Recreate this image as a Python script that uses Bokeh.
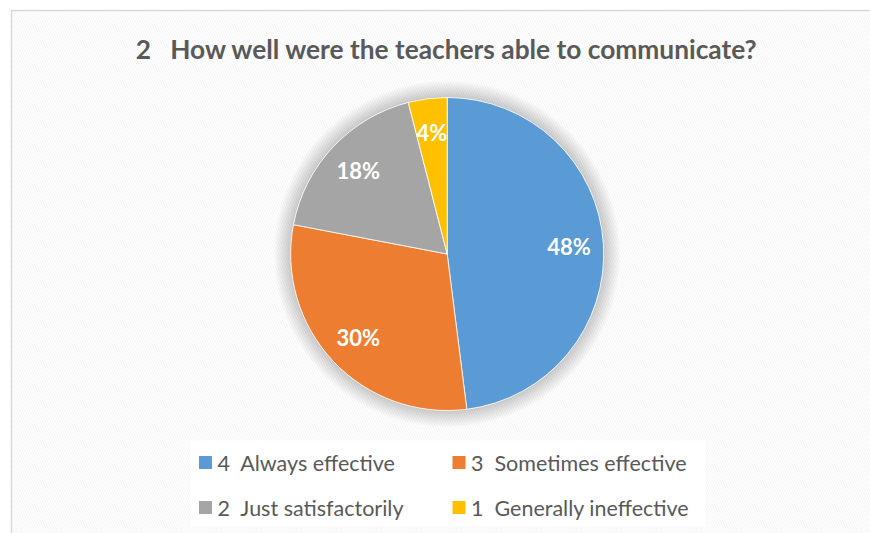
import numpy as np
from bokeh.plotting import figure
from bokeh.models import Range1d, ColumnDataSource
from bokeh.core.properties import value
from bokeh.embed import file_html
from bokeh.resources import INLINE

NB = "\u00a0"
title = "2" + NB * 3 + "How well were the teachers able to communicate?"
categories = ["4" + NB * 2 + "Always effective", "3" + NB * 2 + "Sometimes effective",
              "2" + NB * 2 + "Just satisfactorily", "1" + NB * 2 + "Generally ineffective"]
shares = [48, 30, 18, 4]
labels = ["48%", "30%", "18%", "4%"]
colors = ["#5B9BD5", "#ED7D31", "#A5A5A5", "#FFC000"]

W, H = 870, 533
p = figure(width=W, height=H, output_backend="svg", toolbar_location=None,
           x_range=Range1d(0, W), y_range=Range1d(0, H), min_border=0)
p.axis.visible = False
p.grid.visible = False
p.outline_line_color = None
p.background_fill_color = "white"
p.border_fill_color = "white"

FONT = value("Lato")

def Y(sy):
    return H - sy

# chart area with faint stripes and border
p.quad(left=11, right=W + 20, bottom=-20, top=Y(10), fill_color="white",
       hatch_pattern="left_diagonal_line", hatch_color="#f4f4f4",
       hatch_scale=5, hatch_weight=1, line_color="#d9d9d9", line_width=1.5)

# title
p.text(x=[446.5], y=[Y(48)], text=[title], text_font=FONT, text_font_style="bold",
       text_font_size="26.3px", text_color="#595959", text_align="center",
       text_baseline="middle")

# pie
cx, cy, r = 446.7, Y(253.5), 156.5
# soft shadow
for k in range(1, 18):
    p.circle(x=[cx], y=[cy], radius=r + k, fill_color="#000000",
             fill_alpha=0.011, line_color=None)
p.circle(x=[cx], y=[cy], radius=r, fill_color="white", line_color=None)

frac = np.array(shares, dtype=float) / sum(shares)
cum = np.concatenate([[0], np.cumsum(frac)])
start = np.pi / 2 - 2 * np.pi * cum[1:]
end = np.pi / 2 - 2 * np.pi * cum[:-1]
mid = (start + end) / 2
src = ColumnDataSource(dict(start=start, end=end, color=colors,
                            lx=cx + 0.78 * r * np.cos(mid),
                            ly=cy + 0.78 * r * np.sin(mid), label=labels))
p.wedge(x=cx, y=cy, radius=r, start_angle="start", end_angle="end",
        fill_color="color", line_color="white", line_width=0.8, source=src)
p.text(x="lx", y="ly", text="label", source=src, text_font=FONT,
       text_font_style="bold", text_font_size="22px", text_color="white",
       text_align="center", text_baseline="middle")

# legend
p.quad(left=190, right=705, bottom=Y(526), top=Y(440), fill_color="white", line_color=None)
col_x = [205, 458.5]
row_y = [Y(462), Y(507)]
lsq_x = [col_x[i % 2] for i in range(len(categories))]
lsq_y = [row_y[i // 2] for i in range(len(categories))]
p.rect(x=lsq_x, y=lsq_y, width=13, height=13, fill_color=colors, line_color=None)
p.text(x=[x + 12 for x in lsq_x], y=lsq_y, text=categories, text_font=FONT,
       text_font_size="21.5px", text_color="#595959", text_baseline="middle")

open("out.html", "w").write(file_html(p, INLINE))
